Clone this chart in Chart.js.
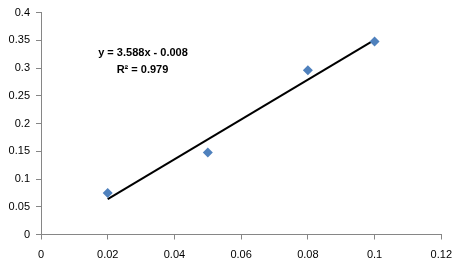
<!DOCTYPE html>
<html>
<head>
<meta charset="utf-8">
<script src="https://cdn.jsdelivr.net/npm/chart.js@4"></script>
<style>
html,body{margin:0;padding:0;background:#fff;}
#wrap{width:461px;height:265px;position:relative;}
</style>
</head>
<body>
<div id="wrap"><canvas id="c" width="461" height="265"></canvas></div>
<script>
const xValues = [0.02, 0.05, 0.08, 0.1];
const yValues = [0.075, 0.148, 0.296, 0.348];
const xTickLabels = ["0", "0.02", "0.04", "0.06", "0.08", "0.1", "0.12"];
const yTickLabels = ["0", "0.05", "0.1", "0.15", "0.2", "0.25", "0.3", "0.35", "0.4"];
const trendSlope = 3.588;
const trendIntercept = -0.008;
const trendText = ["y = 3.588x - 0.008", "R² = 0.979"];

const points = xValues.map((x, i) => ({x: x, y: yValues[i]}));
const xMinData = Math.min(...xValues), xMaxData = Math.max(...xValues);
const trend = [xMinData, xMaxData].map(x => ({x: x, y: trendSlope * x + trendIntercept}));

const FONT = "'Liberation Sans', Arial, sans-serif";
const axisColor = '#868686';

const textPlugin = {
  id: 'eqText',
  afterDatasetsDraw(chart) {
    const ctx = chart.ctx;
    ctx.save();
    ctx.fillStyle = '#000';
    ctx.textAlign = 'center';
    ctx.textBaseline = 'middle';
    ctx.font = 'bold 11px ' + FONT;
    ctx.fillText(trendText[0], 143, 53);
    // R² line
    ctx.fillText(trendText[1], 142.5, 70);
    ctx.restore();
  }
};

new Chart(document.getElementById('c'), {
  type: 'scatter',
  data: {
    datasets: [
      {
        data: trend,
        showLine: true,
        borderColor: '#000',
        borderWidth: 2,
        pointRadius: 0,
        pointHoverRadius: 0,
        fill: false,
        order: 2
      },
      {
        data: points,
        pointStyle: 'rectRot',
        pointRadius: 5,
        pointHoverRadius: 5,
        backgroundColor: '#4F81BD',
        borderColor: '#4F81BD',
        borderWidth: 0,
        order: 1
      }
    ]
  },
  options: {
    responsive: false,
    animation: false,
    devicePixelRatio: 1,
    layout: {padding: {left: 0, right: 17, top: 5, bottom: 0}},
    plugins: {legend: {display: false}, tooltip: {enabled: false}},
    scales: {
      x: {
        type: 'linear',
        min: 0, max: 0.12,
        afterBuildTicks(s) { s.ticks = xTickLabels.map(v => ({value: parseFloat(v)})); },
        afterFit(s) { s.height = 30.5; },
        ticks: {
          callback: (v, i) => xTickLabels[i],
          color: '#000',
          font: {family: FONT, size: 11},
          padding: 9,
          maxRotation: 0,
          autoSkip: false
        },
        grid: {display: true, drawOnChartArea: false, drawTicks: true, tickLength: 5, color: axisColor, lineWidth: 1},
        border: {display: true, color: axisColor, width: 1}
      },
      y: {
        type: 'linear',
        min: 0, max: 0.4,
        afterBuildTicks(s) { s.ticks = yTickLabels.map(v => ({value: parseFloat(v)})); },
        afterFit(s) { s.width = 41; },
        ticks: {
          callback: (v, i) => yTickLabels[i],
          color: '#000',
          font: {family: FONT, size: 11},
          padding: 6,
          autoSkip: false
        },
        grid: {display: true, drawOnChartArea: false, drawTicks: true, tickLength: 5, color: axisColor, lineWidth: 1},
        border: {display: true, color: axisColor, width: 1}
      }
    }
  },
  plugins: [textPlugin]
});
</script>
</body>
</html>
